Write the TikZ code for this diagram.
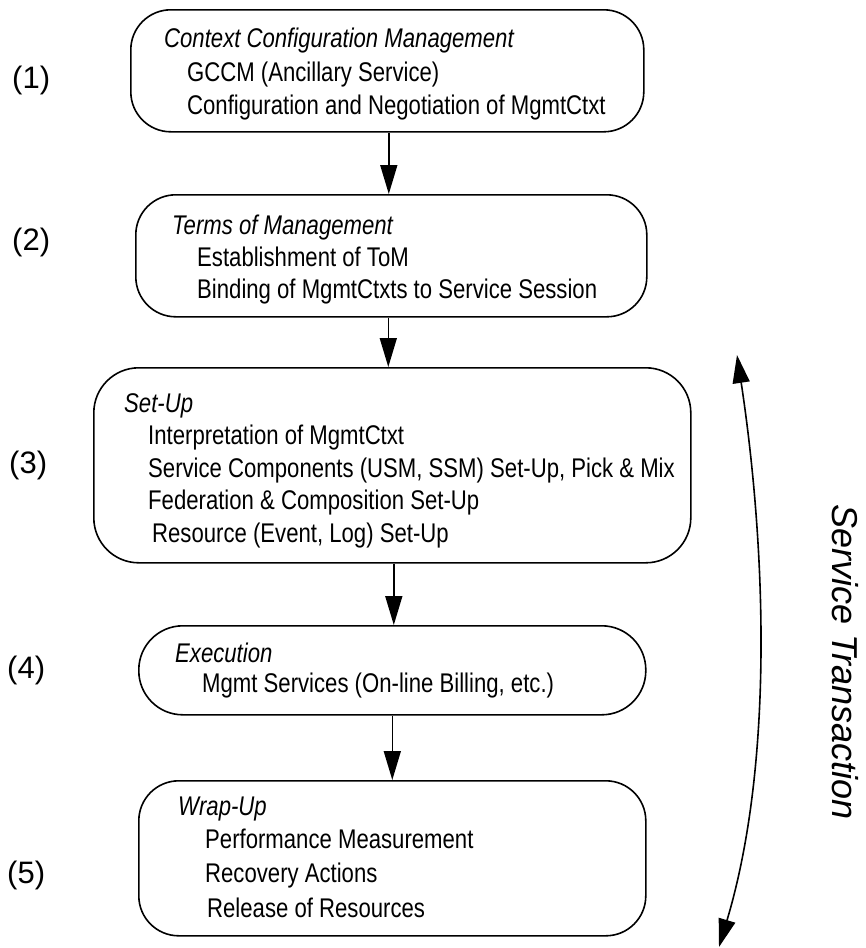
\documentclass[tikz,border=0pt]{standalone}
\usepackage{fontspec}
\usetikzlibrary{arrows.meta}
\newfontfamily\narrowfont{Liberation Sans}[FakeStretch=0.82]
\newfontfamily\plainfont{Liberation Sans}
\begin{document}
\begin{tikzpicture}[x=1pt,y=-1pt,
  box/.style={draw, line width=1.6pt, inner sep=0pt, anchor=north west},
  txt/.style={anchor=base west, inner sep=0pt, font=\narrowfont\fontsize{27}{32}\selectfont},
  ttl/.style={txt, font=\narrowfont\itshape\fontsize{27}{32}\selectfont},
  num/.style={anchor=base west, inner sep=0pt, font=\plainfont\fontsize{31}{36}\selectfont},
  arr/.style={line width=1.6pt, -{Triangle[length=29pt,width=17pt]}},
  dbl/.style={line width=1.6pt, {Triangle[length=28pt,width=17pt]}-{Triangle[length=28pt,width=17pt]}}]
\useasboundingbox (0,0) rectangle (865,948);

% phase boxes
\node[box, rounded corners=40pt, minimum width=513pt, minimum height=122pt] (b1) at (130,9) {};
\node[box, rounded corners=40pt, minimum width=511pt, minimum height=122pt] (b2) at (135,194) {};
\node[box, rounded corners=45pt, minimum width=597pt, minimum height=195pt] (b3) at (93,367) {};
\node[box, rounded corners=44pt, minimum width=507pt, minimum height=89pt] (b4) at (138,625) {};
\node[box, rounded corners=40pt, minimum width=507pt, minimum height=155pt] (b5) at (138,780) {};

% phase numbers
\node[num] (n1) at (12,88) {(1)};
\node[num] (n2) at (12,250) {(2)};
\node[num] (n3) at (9,473) {(3)};
\node[num] (n4) at (7,678) {(4)};
\node[num] (n5) at (7,883) {(5)};

% box contents
\node[ttl] (t1) at (164,47) {Context Configuration Management};
\node[txt] (t1a) at (187,81) {GCCM (Ancillary Service)};
\node[txt] (t1b) at (187,114) {Configuration and Negotiation of MgmtCtxt};

\node[ttl] (t2) at (172,234) {Terms of Management};
\node[txt] (t2a) at (197,266) {Establishment of ToM};
\node[txt] (t2b) at (197,298) {Binding of MgmtCtxts to Service Session};

\node[ttl] (t3) at (124,412) {Set-Up};
\node[txt] (t3a) at (148,444) {Interpretation of MgmtCtxt};
\node[txt] (t3b) at (148,477) {Service Components (USM, SSM) Set-Up, Pick \& Mix};
\node[txt] (t3c) at (148,509) {Federation \& Composition Set-Up};
\node[txt] (t3d) at (152,542) {Resource (Event, Log) Set-Up};

\node[ttl] (t4) at (175,662) {Execution};
\node[txt] (t4a) at (202,692) {Mgmt Services (On-line Billing, etc.)};

\node[ttl] (t5) at (178,815) {Wrap-Up};
\node[txt] (t5a) at (205,848) {Performance Measurement};
\node[txt] (t5b) at (205,882) {Recovery Actions};
\node[txt] (t5c) at (207,917) {Release of Resources};

% flow between phases
\draw[arr] ([xshift=1.5pt]b1.south) -- ([xshift=1.5pt]b1.south |- b2.north);
\draw[arr] ([xshift=-3pt]b2.south) -- ([xshift=-3pt]b2.south |- b3.north);
\draw[arr] ([xshift=1.5pt]b3.south) -- ([xshift=1.5pt]b3.south |- b4.north);
\draw[arr] (b4.south) -- (b4.south |- b5.north);

% service transaction span
\coordinate (s1) at (737,355);
\coordinate (s2) at (719,947);
\draw[dbl] (s1) .. controls (765,540) and (775,760) .. (s2);
\node[rotate=-90, inner sep=0pt, font=\plainfont\itshape\fontsize{36}{40}\selectfont] (st) at (845,662) {Service Transaction};
\end{tikzpicture}
\end{document}
